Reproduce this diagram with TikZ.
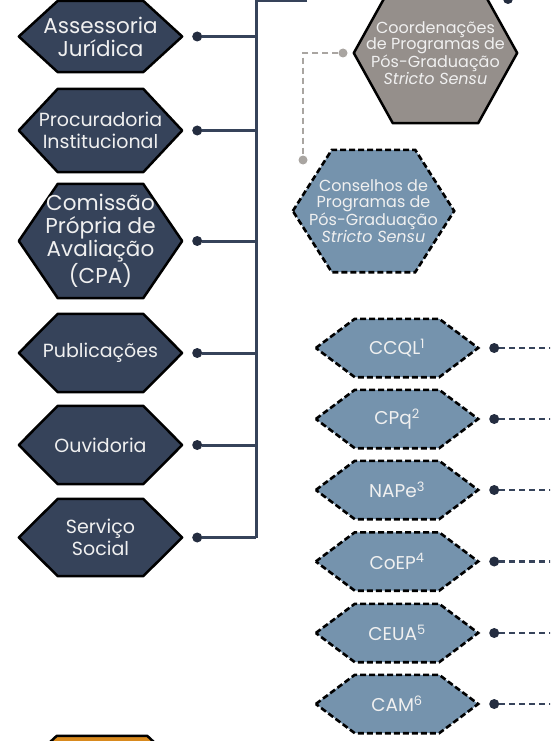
\documentclass[tikz,border=0pt]{standalone}
\usepackage{fontspec}
\setmainfont{Poppins}
\usetikzlibrary{backgrounds}
\definecolor{navy}{HTML}{36435A}
\definecolor{dotnavy}{HTML}{242D40}
\definecolor{steel}{HTML}{7593AD}
\definecolor{taupe}{HTML}{958F8B}
\definecolor{lightline}{HTML}{A9A5A1}
\definecolor{amber}{HTML}{D98A1E}
\definecolor{paper}{HTML}{F0F0F0}
\newcommand{\hexpath}[1]{(#1.west) -- ([xshift=39pt]#1.north west) -- ([xshift=-39pt]#1.north east) -- (#1.east) -- ([xshift=-39pt]#1.south east) -- ([xshift=39pt]#1.south west) -- cycle}

\begin{document}
\begin{tikzpicture}[x=1pt, y=-1pt,
  hexnode/.style={rectangle, inner sep=0pt, minimum width=163pt, align=center, text=paper},
  deptnode/.style={hexnode, minimum height=#1pt, font=\fontsize{19}{22}\selectfont},
  bignode/.style={hexnode, minimum height=#1pt, font=\fontsize{21.5}{23}\selectfont},
  councilnode/.style={hexnode, minimum height=#1pt, font=\fontsize{16}{16.8}\selectfont},
  committeenode/.style={hexnode, minimum width=162pt, minimum height=58pt, font=\fontsize{18.5}{20}\selectfont},
  deptbox/.style={fill=navy, draw=black, line width=2.5pt, line join=round},
  coordbox/.style={fill=taupe, draw=black, line width=2.5pt, line join=round},
  dashbox/.style={fill=steel, draw=black, line width=2.6pt, dash pattern=on 6pt off 3pt},
  amberbox/.style={fill=amber, draw=black, line width=2.5pt, line join=round},
  dot/.style={circle, fill=dotnavy, inner sep=0pt, minimum size=10pt},
  greydot/.style={circle, fill=lightline, inner sep=0pt, minimum size=9pt},
  bus/.style={draw=navy, line width=3pt},
  link/.style={draw=navy, line width=2.5pt, dash pattern=on 6pt off 4pt},
  greylink/.style={draw=lightline, line width=2.5pt, dash pattern=on 6pt off 4pt},
]
\useasboundingbox (0,0) rectangle (550,741);
\clip (0,0) rectangle (550,741);

\node[bignode=71] (assess) at (100.5,36.5) {Assessoria\\Jurídica};
\node[deptnode=83] (procur) at (100.5,130.5) {Procuradoria\\Institucional};
\node[bignode=114] (cpa) at (100.5,241) {Comissão\\Própria de\\Avaliação\\(CPA)};
\node[deptnode=78] (pub) at (100.5,353) {Publicações};
\node[deptnode=78] (ouv) at (100.5,445) {Ouvidoria};
\node[deptnode=77] (serv) at (100.5,537.5) {Serviço\\Social};
\node[hexnode, minimum width=168pt, minimum height=72pt] (amberhex) at (102,772) {};

\node[councilnode=140] (coord) at (435.5,53) {Coordenações\\de Programas de\\Pós-Graduação\\\textit{Stricto Sensu}};
\node[councilnode=122, minimum width=161pt] (cons) at (373.5,211) {Conselhos de\\Programas de\\Pós-Graduação\\\textit{Stricto Sensu}};

\node[committeenode] (ccql) at (397,348) {CCQL\textsuperscript{1}};
\node[committeenode] (cpq) at (397,419) {CPq\textsuperscript{2}};
\node[committeenode] (nape) at (397,490) {NAPe\textsuperscript{3}};
\node[committeenode] (coep) at (397,561.5) {CoEP\textsuperscript{4}};
\node[committeenode] (ceua) at (397,633) {CEUA\textsuperscript{5}};
\node[committeenode] (cam) at (397,704) {CAM\textsuperscript{6}};

\begin{scope}[on background layer]
\clip (0,0) rectangle (550,741);
\foreach \n in {assess,procur,cpa,pub,ouv,serv}
  \draw[deptbox] \hexpath{\n};
\draw[amberbox] \hexpath{amberhex};
\draw[coordbox] \hexpath{coord};
\draw[dashbox] \hexpath{cons};
\foreach \n in {ccql,cpq,nape,coep,ceua,cam}
  \draw[dashbox] \hexpath{\n};
\end{scope}

\coordinate (bustop) at (256,1);
\coordinate (busend) at (307,1);
\coordinate (busbot) at (256,537.5);
\draw[bus] (busend) -- (bustop) -- (busbot);

\foreach \n in {assess,procur,cpa,pub,ouv,serv} {
  \node[dot] (\n dot) at ([xshift=15pt]\n.east) {};
  \draw[bus] (\n dot) -- (\n dot -| bustop);
}

\node[dot] (topdot) at (508,-1) {};

\node[greydot] (coorddot) at (343,53) {};
\node[greydot] (consdot) at (303,160) {};
\draw[greylink] (coorddot) -| (consdot);

\foreach \n in {ccql,cpq,nape,coep,ceua,cam} {
  \node[dot] (\n dot) at ([xshift=16pt]\n.east) {};
  \coordinate (\n end) at (\n dot -| 552,0);
  \draw[link] (\n dot) -- (\n end);
}

\end{tikzpicture}
\end{document}
